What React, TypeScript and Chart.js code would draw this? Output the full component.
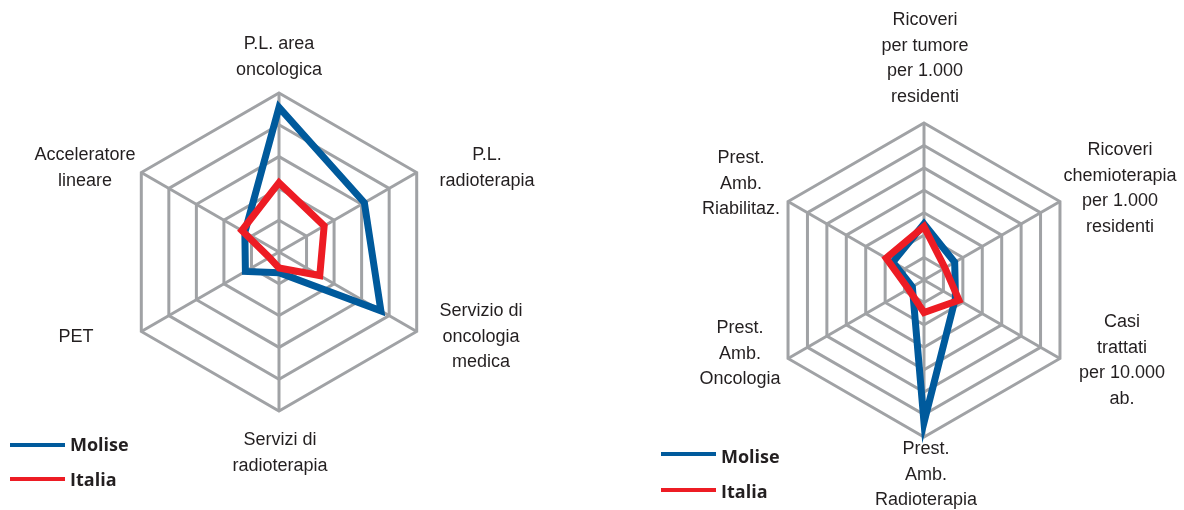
import React, { useEffect, useRef } from "react";
import { Chart, registerables } from "chart.js";

Chart.register(...registerables);

// ---------- Data ----------
const leftCategories: string[][] = [
  ["P.L. area", "oncologica"],
  ["P.L.", "radioterapia"],
  ["Servizio di", "oncologia", "medica"],
  ["Servizi di", "radioterapia"],
  ["PET"],
  ["Acceleratore", "lineare"],
];
const leftMolise = [4.55, 3.1, 3.7, 0.65, 1.22, 1.24];
const leftItalia = [2.18, 1.64, 1.48, 0.5, 0.35, 1.35];
const leftMax = 5;

const rightCategories: string[][] = [
  ["Ricoveri", "per tumore", "per 1.000", "residenti"],
  ["Ricoveri", "chemioterapia", "per 1.000", "residenti"],
  ["Casi", "trattati", "per 10.000", "ab."],
  ["Prest.", "Amb.", "Radioterapia"],
  ["Prest.", "Amb.", "Oncologia"],
  ["Prest.", "Amb.", "Riabilitaz."],
];
const rightMolise = [2.5, 1.58, 1.62, 6.35, 0.6, 1.6];
const rightItalia = [2.38, 1.08, 1.8, 1.45, 0.8, 1.95];
const rightMax = 7;

const seriesNames = ["Molise", "Italia"];

// ---------- Layout / style ----------
const BLUE = "#005a9c";
const RED = "#ed1c24";
const GRID = "#a0a2a5";
const TEXT = "#231f20";

// label anchors: [center x, first line center y] in page px
const leftLabelPos: [number, number][] = [
  [279, 44],
  [487, 155],
  [481, 311],
  [280, 440],
  [76, 337],
  [85, 155],
];
const rightLabelPos: [number, number][] = [
  [925, 20],
  [1120, 150],
  [1122, 322],
  [926, 449],
  [740, 328],
  [741, 158],
];

type RadarProps = {
  x: number;
  labels: string[][];
  molise: number[];
  italia: number[];
  max: number;
  padding: { left: number; top: number; right: number; bottom: number };
};

function Radar({ x, labels, molise, italia, max, padding }: RadarProps) {
  const ref = useRef<HTMLCanvasElement>(null);
  useEffect(() => {
    if (!ref.current) return;
    const chart = new Chart(ref.current, {
      type: "radar",
      data: {
        labels: labels,
        datasets: [
          {
            label: seriesNames[1],
            data: italia,
            borderColor: RED,
            backgroundColor: "transparent",
            fill: false,
            borderWidth: 7,
            pointRadius: 0,
            clip: false,
          } as any,
          {
            label: seriesNames[0],
            data: molise,
            borderColor: BLUE,
            backgroundColor: "transparent",
            fill: false,
            borderWidth: 7,
            pointRadius: 0,
            clip: false,
          } as any,
        ],
      },
      options: {
        animation: false,
        responsive: false,
        devicePixelRatio: 1,
        layout: { padding },
        elements: {
          line: { tension: 0, borderJoinStyle: "miter" },
          point: { radius: 0, hoverRadius: 0 },
        },
        plugins: {
          legend: { display: false },
          tooltip: { enabled: false },
        },
        scales: {
          r: {
            min: 0,
            max: max,
            beginAtZero: true,
            ticks: { display: false, stepSize: 1 },
            grid: { color: GRID, lineWidth: 3 },
            angleLines: { color: GRID, lineWidth: 3 },
            pointLabels: { display: false },
          },
        },
      } as any,
    });
    return () => chart.destroy();
  }, []);
  return (
    <canvas
      ref={ref}
      width={592}
      height={510}
      style={{ position: "absolute", left: x, top: 0, width: 592, height: 510 }}
    />
  );
}

const labelFont = "'Liberation Sans', Arial, sans-serif";
const legendFont = "'Open Sans', 'Noto Sans', sans-serif";
const LINE_H = 25.5;

function Labels({ labels, pos }: { labels: string[][]; pos: [number, number][] }) {
  return (
    <>
      {labels.map((lines, i) => (
        <div
          key={i}
          style={{
            position: "absolute",
            left: pos[i][0] - 100,
            top: pos[i][1] - LINE_H / 2,
            width: 200,
            textAlign: "center",
            fontFamily: labelFont,
            fontSize: 18,
            lineHeight: LINE_H + "px",
            color: TEXT,
            whiteSpace: "nowrap",
          }}
        >
          {lines.map((l, j) => (
            <div key={j}>{l}</div>
          ))}
        </div>
      ))}
    </>
  );
}

function Legend({ x, y1, y2, t1, t2 }: { x: number; y1: number; y2: number; t1: number; t2: number }) {
  const items = [
    { name: seriesNames[0], color: BLUE, y: y1, ty: t1 },
    { name: seriesNames[1], color: RED, y: y2, ty: t2 },
  ];
  return (
    <>
      {items.map((it, i) => (
        <React.Fragment key={i}>
          <div
            style={{
              position: "absolute",
              left: x,
              top: it.y - 2,
              width: 55,
              height: 4,
              background: it.color,
            }}
          />
          <div
            style={{
              position: "absolute",
              left: x + 60,
              top: it.ty - 10.6,
              fontFamily: legendFont,
              fontWeight: 700,
              fontSize: 18,
              lineHeight: "20px",
              color: TEXT,
              whiteSpace: "nowrap",
            }}
          >
            {it.name}
          </div>
        </React.Fragment>
      ))}
    </>
  );
}

export default function App() {
  return (
    <div
      style={{
        position: "absolute",
        left: 0,
        top: 0,
        width: 1184,
        height: 510,
        background: "#fff",
        overflow: "hidden",
      }}
    >
      <Radar
        x={0}
        labels={leftCategories}
        molise={leftMolise}
        italia={leftItalia}
        max={leftMax}
        padding={{ left: 120, top: 93, right: 154, bottom: 99 }}
      />
      <Radar
        x={592}
        labels={rightCategories}
        molise={rightMolise}
        italia={rightItalia}
        max={rightMax}
        padding={{ left: 175, top: 123, right: 103, bottom: 73 }}
      />
      <Labels labels={leftCategories} pos={leftLabelPos} />
      <Labels labels={rightCategories} pos={rightLabelPos} />
      <Legend x={10} y1={445} y2={479} t1={445} t2={480} />
      <Legend x={661} y1={454} y2={490} t1={457} t2={492} />
    </div>
  );
}
